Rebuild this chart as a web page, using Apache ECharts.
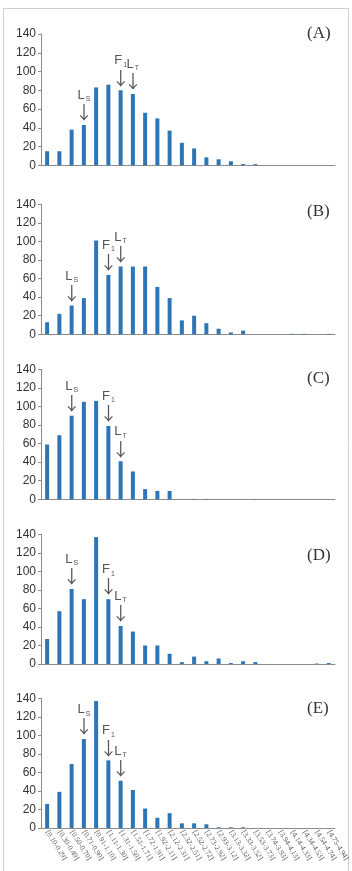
<!DOCTYPE html>
<html><head><meta charset="utf-8">
<script src="https://cdn.jsdelivr.net/npm/echarts@6/dist/echarts.min.js"></script>
<style>html,body{margin:0;padding:0;background:#fff}#c{width:352px;height:871px}</style>
</head><body><div id="c"></div>
<script>
const categories = ['[0.10-0.29]','[0.30-0.49]','[0.50-0.70]','[0.71-0.90]','[0.91-1.10]','[1.11-1.30]','[1.31-1.50]','[1.51-1.71]','[1.72-1.91]','[1.92-2.11]','[2.12-2.31]','[2.32-2.51]','[2.52-2.72]','[2.73-2.92]','[2.93-3.12]','[3.13-3.32]','[3.33-3.52]','[3.53-3.73]','[3.74-3.93]','[3.94-4.13]','[4.14-4.33]','[4.34-4.53]','[4.54-4.74]','[4.75-4.94]'];
const panelNames = ['(A)','(B)','(C)','(D)','(E)'];
const valuesA = [15,15,38,43,83,86,80,76,56,50,37,24,18,8.5,6.4,4.3,1.4,1.2,0,0,0,0,0,0];
const valuesB = [13,22,31,39,101,64,73,73,73,51,39,15,20,12,6,2,4,0,0,0,0.5,0.5,0,0.5];
const valuesC = [59,69,90,105,106,79,41,30,11,9,9,0,0.4,0.4,0,0,0,0.4,0,0,0,0,0,0];
const valuesD = [27,57,81,70,137,70,41,35,20,20,11,2,8,3,6,1,3,2,0,0,0,0,0.5,1];
const valuesE = [26,39,69,96,137,73,51,41,21,11,16,5,5,4,0.7,0.7,0.7,0,0,0,0,0,0,0];
const yTicks = [0,20,40,60,80,100,120,140];
const lsIndex = [3,2,2,2,3];
const f1Index = [6,5,5,5,5];
const ltIndex = [7,6,6,6,6];

const allValues = [valuesA,valuesB,valuesC,valuesD,valuesE];
const gridTops = [34,204.3,369.3,534.3,698.3];
const gridHeights = [131.3,130,130,129.7,129.7];
const titleTops = [20,198,365,542,695];
const BLUE = '#2E75B6';

function annot(letter, sub){
  return {
    show:true, position:'top', distance:3,
    formatter: '{m|'+letter+'}{s|'+sub+'}\n{a|↓}',
    rich:{
      m:{fontFamily:'Liberation Sans',fontSize:13,color:'#555',lineHeight:15},
      s:{fontFamily:'Liberation Sans',fontSize:7,color:'#555',verticalAlign:'bottom',padding:[7,0,0,1],lineHeight:15},
      a:{fontFamily:'Noto Sans CJK JP',fontSize:18,color:'#555',lineHeight:19}
    }
  };
}

const grids=[],xAxes=[],yAxes=[],series=[],titles=[];
for(let p=0;p<5;p++){
  grids.push({left:41,right:17,top:gridTops[p],height:gridHeights[p]});
  xAxes.push({
    type:'category', gridIndex:p, data:categories,
    axisLine:{lineStyle:{color:'#8c8c8c',width:1}},
    axisTick:{show:false},
    axisLabel:{show:p===4, rotate:-58, interval:0, fontSize:7.5, color:'#555', fontFamily:'Liberation Serif', margin:3}
  });
  yAxes.push({
    type:'value', gridIndex:p, min:yTicks[0], max:yTicks[yTicks.length-1], interval:20,
    splitLine:{show:false},
    axisLine:{show:true,lineStyle:{color:'#8c8c8c'}},
    axisTick:{show:true,length:3,lineStyle:{color:'#8c8c8c'}},
    axisLabel:{fontSize:12,color:'#333',fontFamily:'Liberation Sans',margin:5}
  });
  const data = allValues[p].map((v,i)=>{
    const d={value:v};
    if(i===lsIndex[p]) d.label=annot('L','S');
    else if(i===f1Index[p]) d.label=annot('F','1');
    else if(i===ltIndex[p]) d.label=annot('L','T');
    return d;
  });
  series.push({type:'bar', xAxisIndex:p, yAxisIndex:p, data:data, barWidth:4,
    itemStyle:{color:BLUE}, label:{show:false}, animation:false});
  titles.push({text:panelNames[p], left:302, top:titleTops[p],
    textStyle:{fontFamily:'Liberation Serif',fontSize:17,fontWeight:'normal',color:'#333'}});
}

const chart = echarts.init(document.getElementById('c'),null,{renderer:'canvas'});
chart.setOption({
  animation:false,
  title:titles,
  grid:grids, xAxis:xAxes, yAxis:yAxes, series:series,
  graphic:[{type:'rect',shape:{x:3.5,y:8.5,width:345,height:870},style:{fill:'none',stroke:'#cfcfcf',lineWidth:1},silent:true}]
});
</script></body></html>
